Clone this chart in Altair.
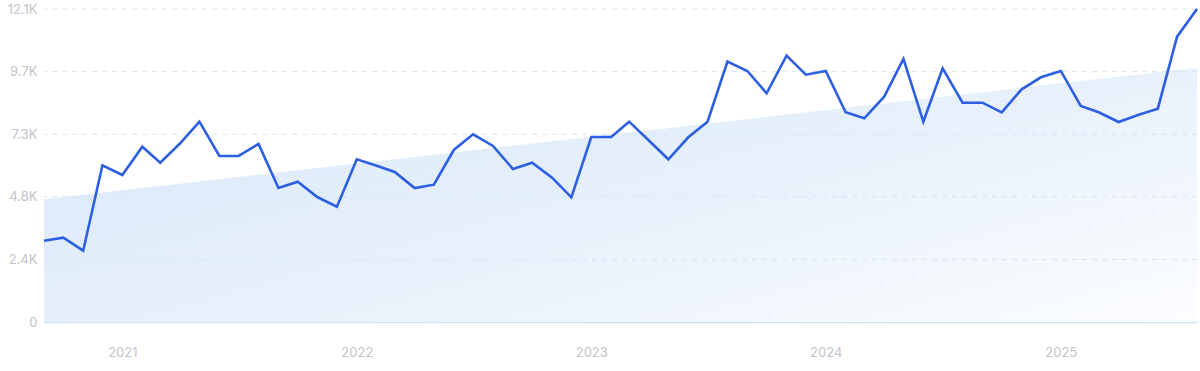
import altair as alt
import pandas as pd

months = pd.date_range("2020-09-01", "2025-08-01", freq="MS").strftime("%Y-%m-%d").tolist()
values = [3143, 3259, 2757, 6058, 5683, 6777, 6159, 6908, 7744, 6418,
          6418, 6882, 5180, 5424, 4821, 4457, 6290, 6043, 5799, 5180,
          5308, 6650, 7256, 6804, 5915, 6159, 5579, 4821, 7152, 7152,
          7744, 7009, 6290, 7140, 7744, 10064, 9704, 8841, 10296, 9561,
          9704, 8107, 7875, 8710, 10168, 7744, 9808, 8478, 8478, 8107,
          8996, 9460, 9704, 8351, 8107, 7732, 8003, 8246, 11030, 12100]

trend_dates = ["2020-09-01", "2025-08-01"]
trend_values = [4744, 9830]

y_ticks = [0, 2420, 4840, 7260, 9680, 12100]
x_ticks = ["2021-01-01", "2022-01-01", "2023-01-01", "2024-01-01", "2025-01-01"]

df = pd.DataFrame({"date": months, "value": values})
trend = pd.DataFrame({"date": trend_dates, "value": trend_values})
grid = pd.DataFrame({"value": y_ticks[1:]})

label_color = "#c3c3cb"
font = "Inter"

x_scale = alt.Scale(domain=[months[0], months[-1]], nice=False)
y_scale = alt.Scale(domain=[0, 12100], nice=False)

x_axis = alt.Axis(
    values=[pd.Timestamp(d).value // 10**6 for d in x_ticks],
    format="%Y", title=None, grid=False, ticks=False,
    domain=True, domainColor="#c9e3f8", domainWidth=1.5,
    labelColor=label_color, labelFontSize=13, labelFont=font,
    labelPadding=24, labelAngle=0)

y_axis = alt.Axis(
    values=y_ticks, title=None, ticks=False, domain=False,
    grid=False,
    labelColor=label_color, labelFontSize=13, labelFont=font,
    labelPadding=7,
    labelExpr="datum.value == 0 ? '0' : format(datum.value / 1000, '.1f') + 'K'")

area = alt.Chart(trend).mark_area(
    fill=alt.Gradient(
        gradient="linear",
        stops=[alt.GradientStop(color="#dbe9fa", offset=0),
               alt.GradientStop(color="#e8f1fb", offset=0.5),
               alt.GradientStop(color="#fcfdff", offset=1)],
        x1=0, y1=0.2, x2=1, y2=1),
    line=False
).encode(
    x=alt.X("date:T", scale=x_scale, axis=x_axis),
    y=alt.Y("value:Q", scale=y_scale, axis=y_axis),
)

rules = alt.Chart(grid).mark_rule(
    color="#d3e6f8", strokeDash=[5, 5], strokeWidth=1
).encode(y=alt.Y("value:Q", scale=y_scale))

line = alt.Chart(df).mark_line(color="#2d5fe3", strokeWidth=2.6, strokeJoin="miter").encode(
    x=alt.X("date:T", scale=x_scale),
    y=alt.Y("value:Q", scale=y_scale),
)

chart = alt.layer(area, rules, line).properties(
    width=1153, height=313,
    autosize=alt.AutoSizeParams(type="none"),
    padding={"left": 44, "top": 9, "right": 3, "bottom": 49},
    background="white",
).configure_view(stroke=None)

chart.save("out.html", embed_options={"renderer": "svg", "actions": False})
